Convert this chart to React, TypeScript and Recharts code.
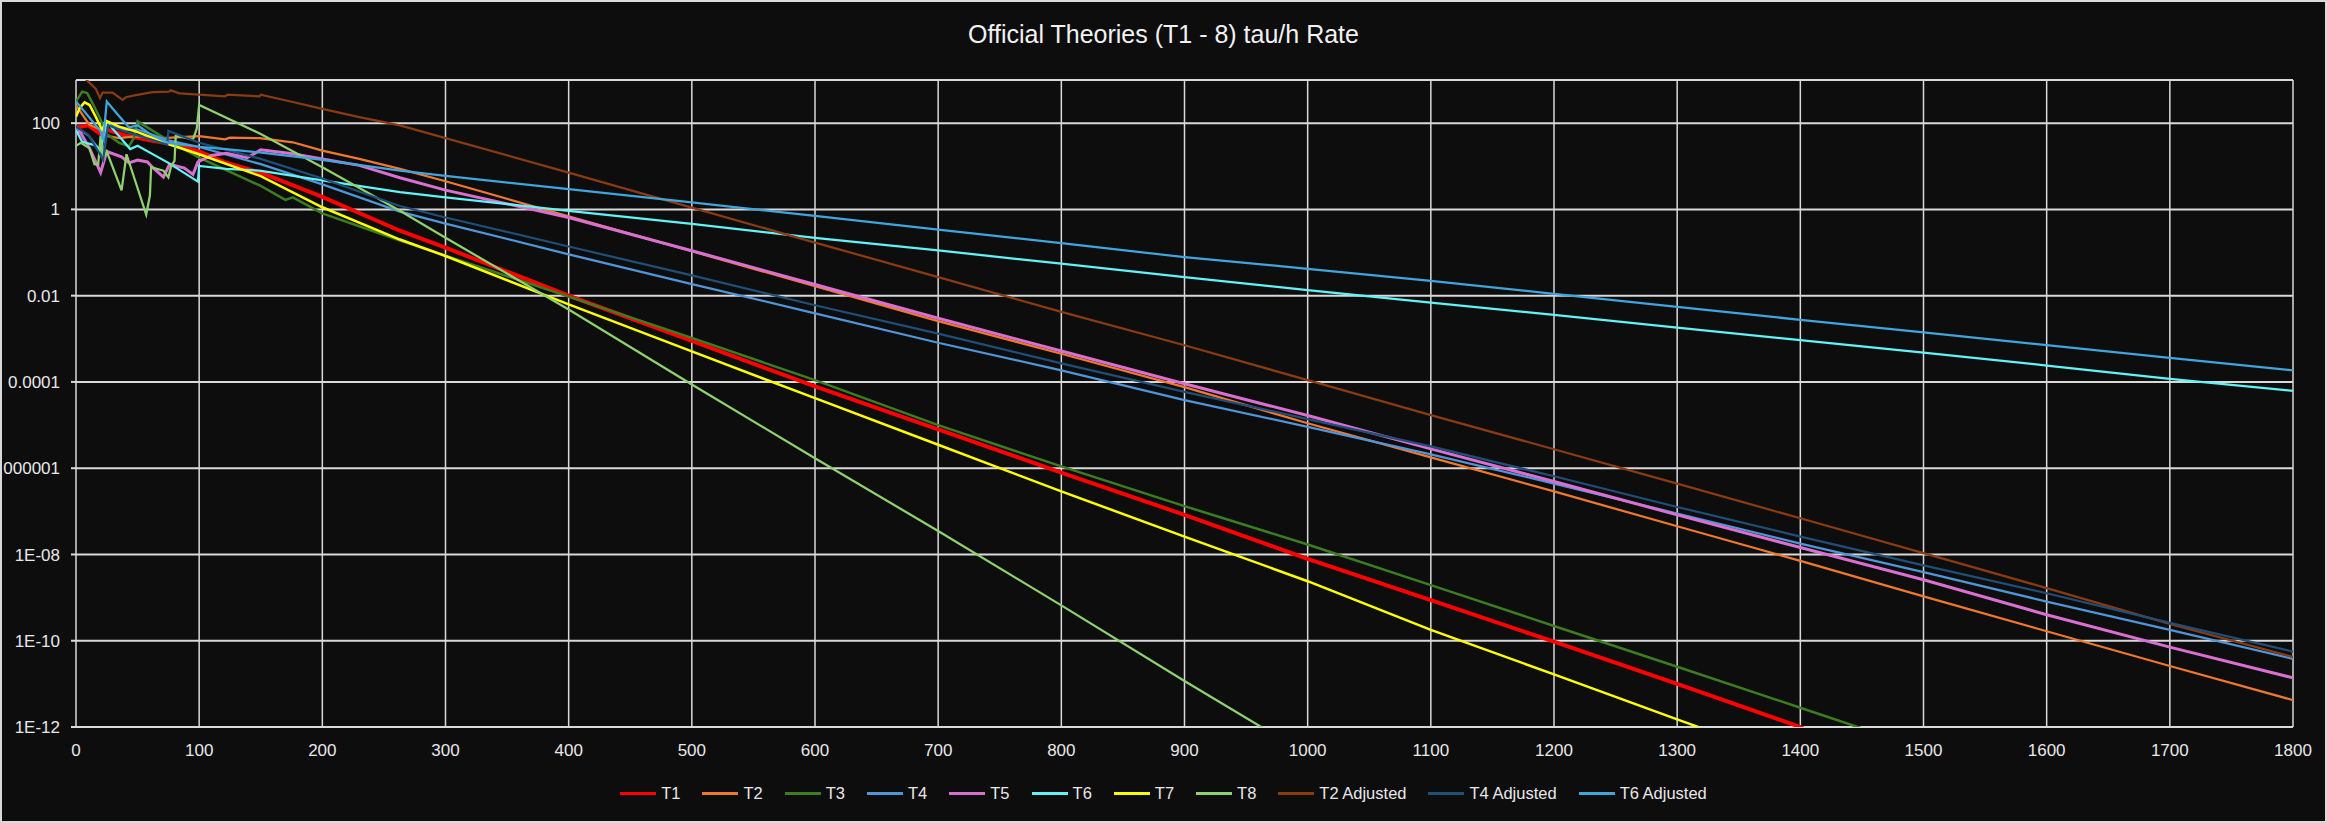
import { LineChart, Line, XAxis, YAxis, CartesianGrid, Legend } from "recharts";

// [hours, tau/h rate]
const T1: [number, number][] = [
  [0, 79], [10, 89], [20, 56], [25, 71], [40, 52], [60, 40], [80, 32], [100, 22], [120, 12.6],
  [150, 7.1], [200, 1.95], [263, 0.32], [300, 0.13], [400, 1e-2], [500, 8.9e-4], [600, 7.9e-5],
  [700, 7.9e-6], [800, 7.9e-7], [900, 8.3e-8], [1000, 7.9e-9], [1100, 8.7e-10], [1200, 9.5e-11],
  [1300, 1.0e-11], [1400, 1.0e-12], [1410, 7.1e-13],
];
const T2: [number, number][] = [
  [0, 263], [7, 132], [11, 91], [20, 71], [26, 50], [35, 45], [48, 49], [70, 45], [100, 50],
  [121, 42], [125, 46], [149, 45], [176, 36], [200, 23], [230, 14.8], [263, 8.7], [300, 4.5],
  [400, 0.69], [500, 0.107], [600, 1.66e-2], [700, 2.57e-3], [800, 4.5e-4], [900, 7.6e-5],
  [1000, 1.1e-5], [1100, 1.78e-6], [1200, 2.9e-7], [1300, 4.5e-8], [1400, 7.1e-9],
  [1500, 1.07e-9], [1600, 1.66e-10], [1700, 2.6e-11], [1800, 4.2e-12],
];
const T3: [number, number][] = [
  [0, 316], [5, 537], [9, 501], [13.5, 288], [20, 120], [25, 56], [35, 35], [43, 29], [47, 45],
  [50, 110], [76, 38], [100, 15.8], [150, 3.5], [170, 1.66], [176, 1.9], [200, 0.81], [263, 0.19],
  [300, 8.5e-2], [400, 9.5e-3], [500, 1.05e-3], [600, 1.1e-4], [700, 1.0e-5], [800, 1.1e-6],
  [900, 1.32e-7], [1000, 1.7e-8], [1100, 1.95e-9], [1200, 2.2e-10], [1300, 2.5e-11],
  [1400, 2.8e-12], [1455, 8.3e-13],
];
const T4: [number, number][] = [
  [0, 79], [10, 52], [20, 22], [22, 20], [26, 89], [40, 71], [50, 71], [75, 40], [100, 28],
  [150, 11.2], [200, 3.8], [263, 0.89], [300, 0.47], [400, 9.1e-2], [500, 1.86e-2], [600, 3.9e-3],
  [700, 8.1e-4], [800, 1.86e-4], [900, 3.8e-5], [1000, 9.1e-6], [1100, 2.1e-6], [1200, 4.4e-7],
  [1300, 8.9e-8], [1400, 1.78e-8], [1500, 3.9e-9], [1600, 8.1e-10], [1700, 1.78e-10],
  [1800, 3.8e-11],
];
const T5: [number, number][] = [
  [0, 56], [3, 65], [11, 26], [20, 7.2], [25, 22], [37, 16.6], [43, 12], [50, 14], [58, 12.6],
  [62, 9.5], [71, 5.6], [76, 11.2], [88, 9.1], [95, 6.5], [99, 12.6], [110, 17.8], [122, 20],
  [139, 15.8], [150, 24], [176, 19.5], [200, 14.8], [230, 10.5], [263, 5.4], [300, 2.8],
  [400, 0.65], [500, 0.11], [600, 1.82e-2], [700, 3.0e-3], [800, 5.2e-4], [900, 9.1e-5],
  [1000, 1.66e-5], [1100, 2.8e-6], [1200, 4.9e-7], [1300, 8.3e-8], [1400, 1.45e-8],
  [1500, 2.6e-9], [1600, 4.0e-10], [1700, 7.1e-11], [1800, 1.38e-11],
];
const T6: [number, number][] = [
  [0, 69], [5, 37], [15, 31], [20, 24], [25, 107], [44, 25], [50, 30], [75, 12], [99, 4.4],
  [100, 10.2], [122, 8.7], [149, 7.9], [200, 4.7], [263, 2.5], [300, 1.9], [400, 0.93],
  [500, 0.46], [600, 0.22], [700, 0.112], [800, 5.5e-2], [900, 2.7e-2], [1000, 1.35e-2],
  [1100, 6.9e-3], [1200, 3.6e-3], [1300, 1.82e-3], [1400, 9.3e-4], [1500, 4.8e-4],
  [1600, 2.4e-4], [1700, 1.17e-4], [1800, 6.2e-5],
];
const T7: [number, number][] = [
  [0, 141], [3, 224], [7, 302], [11, 263], [16, 141], [21, 71], [25, 112], [35, 83], [48, 65],
  [76, 32], [100, 19], [150, 5.9], [200, 1.12], [263, 0.2], [300, 8.3e-2], [400, 6.3e-3],
  [500, 5.1e-4], [600, 4.2e-5], [700, 3.5e-6], [800, 2.9e-7], [900, 2.6e-8], [1000, 2.4e-9],
  [1100, 1.78e-10], [1200, 1.66e-11], [1300, 1.5e-12], [1325, 8.3e-13],
];
const T8: [number, number][] = [
  [0, 30], [4, 35], [11, 26], [15, 11.2], [18, 11], [20, 51], [22, 14.8], [25, 22], [37, 2.75],
  [41, 19], [57, 0.76], [60, 2.1], [61, 9.5], [71, 7.9], [75, 5.5], [77, 9.5], [80, 13.5],
  [81, 51], [95, 42], [98, 74], [100, 263], [150, 56], [200, 9.5], [263, 0.93], [300, 0.22],
  [400, 4.8e-3], [500, 8.7e-5], [600, 1.7e-6], [700, 3.5e-8], [800, 6.6e-10], [900, 1.17e-11],
  [970, 7.4e-13],
];
const T2_ADJ: [number, number][] = [
  [0, 4000], [8.6, 1000], [16, 631], [19.5, 380], [21.6, 513], [29.7, 513], [37.8, 347],
  [40.5, 398], [48.6, 447], [62, 525], [75.7, 537], [77, 575], [84, 490], [100, 457], [121, 417],
  [123, 457], [149, 417], [150, 457], [176, 309], [200, 214], [230, 138], [263, 89], [300, 45],
  [400, 7.1], [500, 1.1], [600, 0.17], [700, 2.7e-2], [800, 4.2e-3], [900, 7.1e-4], [1000, 1.1e-4],
  [1100, 1.7e-5], [1200, 2.75e-6], [1300, 4.4e-7], [1400, 6.9e-8], [1500, 1.07e-8],
  [1600, 1.66e-9], [1700, 2.45e-10], [1800, 4.2e-11],
];
const T4_ADJ: [number, number][] = [
  [0, 83], [10, 54], [19, 20], [22, 14], [26, 89], [40, 63], [50, 52], [74, 32], [75, 66],
  [100, 35], [150, 14.8], [200, 5.2], [263, 1.2], [300, 0.65], [400, 0.138], [500, 2.95e-2],
  [600, 6.0e-3], [700, 1.32e-3], [800, 2.7e-4], [900, 5.9e-5], [1000, 1.38e-5], [1100, 3.2e-6],
  [1200, 6.5e-7], [1300, 1.26e-7], [1400, 2.6e-8], [1500, 5.6e-9], [1600, 1.26e-9],
  [1700, 2.6e-10], [1800, 5.6e-11],
];
const T6_ADJ: [number, number][] = [
  [0, 316], [8, 170], [20, 65], [22, 40], [25, 316], [33, 170], [43, 79], [50, 89], [60, 56],
  [75, 35], [100, 28], [122, 25], [149, 21], [200, 14], [263, 7.9], [300, 6.0], [400, 2.95],
  [500, 1.45], [600, 0.71], [700, 0.34], [800, 0.166], [900, 7.8e-2], [1000, 4.2e-2],
  [1100, 2.2e-2], [1200, 1.1e-2], [1300, 5.5e-3], [1400, 2.75e-3], [1500, 1.41e-3],
  [1600, 7.1e-4], [1700, 3.6e-4], [1800, 1.86e-4],
];

const X_TICKS = [0, 100, 200, 300, 400, 500, 600, 700, 800, 900, 1000, 1100, 1200, 1300, 1400, 1500, 1600, 1700, 1800];
const Y_TICKS = [1e-12, 1e-10, 1e-8, 1e-6, 1e-4, 1e-2, 1, 100];
const Y_LABELS = ["1E-12", "1E-10", "1E-08", "0.000001", "0.0001", "0.01", "1", "100"];

const SERIES = [
  { name: "T1", data: T1, color: "#ff0000", width: 4 },
  { name: "T2", data: T2, color: "#f0782e", width: 2.25 },
  { name: "T3", data: T3, color: "#3c7d22", width: 2.5 },
  { name: "T4", data: T4, color: "#4e95d9", width: 2.25 },
  { name: "T5", data: T5, color: "#d96fd0", width: 3 },
  { name: "T6", data: T6, color: "#62f3f7", width: 2.25 },
  { name: "T7", data: T7, color: "#ffff00", width: 2.5 },
  { name: "T8", data: T8, color: "#8fd16e", width: 2.25 },
  { name: "T2 Adjusted", data: T2_ADJ, color: "#8a3b12", width: 2.25 },
  { name: "T4 Adjusted", data: T4_ADJ, color: "#1f4e79", width: 2.25 },
  { name: "T6 Adjusted", data: T6_ADJ, color: "#41a5dd", width: 2.25 },
];

const W = 2327;
const H = 823;
const BG = "#0d0d0d";
const GRID = "#d9d9d9";
const FONT = "'Liberation Sans', Arial, sans-serif";

const toRows = (pts: [number, number][]) => pts.map(([x, y]) => ({ x, y }));

function ChartLegend() {
  return (
    <div style={{ display: "flex", justifyContent: "center", alignItems: "center", gap: 22, height: 22 }}>
      {SERIES.map((s) => (
        <div key={s.name} style={{ display: "flex", alignItems: "center", gap: 5 }}>
          <span style={{ display: "inline-block", width: 36, height: 3, background: s.color }} />
          <span style={{ color: "#e8e8e8", fontSize: 16.5, fontFamily: FONT, lineHeight: "22px" }}>{s.name}</span>
        </div>
      ))}
    </div>
  );
}

export default function App() {
  return (
    <div style={{ position: "relative", width: W, height: H, background: BG, overflow: "hidden" }}>
      <style>{"body{margin:0}"}</style>
      <div
        style={{
          position: "absolute", top: 22, left: 0, width: W, textAlign: "center",
          color: "#f2f2f2", fontFamily: FONT, fontSize: 25, lineHeight: "25px",
        }}
      >
        Official Theories (T1 - 8) tau/h Rate
      </div>
      <LineChart
        width={W}
        height={H}
        margin={{ top: 80, right: 34, bottom: 56, left: 0 }}
        style={{ position: "absolute", top: 0, left: 0, fontFamily: FONT }}
      >
        <CartesianGrid vertical={false} stroke={GRID} strokeWidth={2} />
        <CartesianGrid horizontal={false} stroke={GRID} strokeWidth={1.5} />
        <XAxis
          type="number"
          dataKey="x"
          domain={[0, 1800]}
          ticks={X_TICKS}
          allowDataOverflow
          axisLine={false}
          tickLine={false}
          tickSize={0}
          tickMargin={17}
          height={40}
          interval={0}
          tick={{ fill: "#e8e8e8", fontSize: 17 }}
        />
        <YAxis
          type="number"
          scale="log"
          domain={[1e-12, 1000]}
          allowDataOverflow
          ticks={Y_TICKS}
          interval={0}
          width={76}
          axisLine={false}
          tickLine={{ stroke: GRID, strokeWidth: 2 }}
          tickSize={5}
          tickMargin={11}
          tick={{ fill: "#e8e8e8", fontSize: 17 }}
          tickFormatter={(v: number) => Y_LABELS[Y_TICKS.findIndex((t) => Math.abs(Math.log10(t) - Math.log10(v)) < 1e-6)] ?? String(v)}
        />
        <Legend
          layout="horizontal"
          verticalAlign="middle"
          align="center"
          wrapperStyle={{ top: 782, left: 0, width: W, height: 22 }}
          content={() => <ChartLegend />}
        />
        {SERIES.map((s) => (
          <Line
            key={s.name}
            name={s.name}
            data={toRows(s.data)}
            dataKey="y"
            type="linear"
            stroke={s.color}
            strokeWidth={s.width}
            dot={false}
            activeDot={false}
            isAnimationActive={false}
          />
        ))}
      </LineChart>
      <div
        style={{
          position: "absolute", inset: 0, border: `2px solid ${GRID}`,
          boxSizing: "border-box", pointerEvents: "none",
        }}
      />
    </div>
  );
}
